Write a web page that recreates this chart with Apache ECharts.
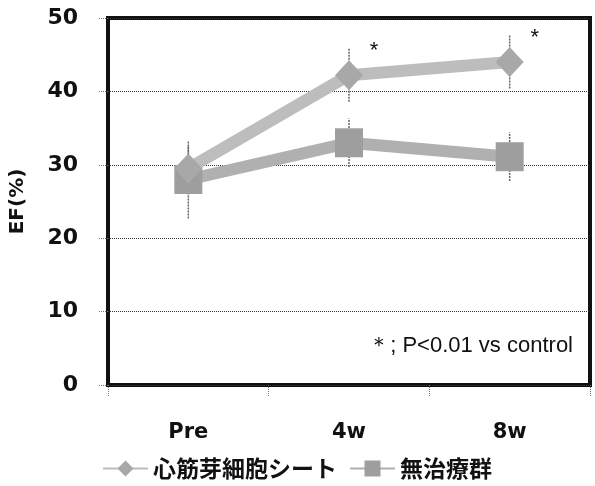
<!DOCTYPE html>
<html><head><meta charset="utf-8">
<script src="https://cdn.jsdelivr.net/npm/echarts@6/dist/echarts.min.js"></script>
<style>html,body{margin:0;padding:0;background:#fff}#c{width:595px;height:486px}</style>
</head><body><div id="c"></div>
<script>
var categories = ['Pre', '4w', '8w'];
var sheetName = '心筋芽細胞シート';
var controlName = '無治療群';
var sheetEF = [29.5, 42.2, 44.0];
var sheetErr = [3.0, 3.6, 3.6];
var sheetSig = ['', '*', '*'];
var controlEF = [28.0, 33.0, 31.1];
var controlErr = [5.3, 3.3, 3.3];
var yTicks = [0, 10, 20, 30, 40, 50];
var footnote = '＊; P<0.01 vs control';

var chart = echarts.init(document.getElementById('c'));

function errData(vals, errs) {
  return vals.map(function (v, i) { return [i, v, errs[i]]; });
}
function errRender(params, api) {
  var i = api.value(0), v = api.value(1), e = api.value(2);
  var a = api.coord([i, v - e]);
  var b = api.coord([i, v + e]);
  return {
    type: 'line',
    shape: { x1: a[0], y1: a[1], x2: b[0], y2: b[1] },
    style: { stroke: '#666', lineWidth: 1.5, lineDash: [2, 1] }
  };
}

chart.setOption({
  animation: false,
  grid: { left: 108, right: 5, top: 18, bottom: 101, show: true, borderColor: '#111', borderWidth: 4, backgroundColor: '#fff' },
  xAxis: {
    type: 'category',
    data: categories,
    boundaryGap: true,
    axisLine: { show: false },
    axisTick: { show: true, inside: false, length: 12, lineStyle: { color: '#777', type: 'dotted', width: 1 } },
    axisLabel: { margin: 37, fontSize: 21, fontWeight: 'bold', color: '#111', fontFamily: 'DejaVu Sans' }
  },
  yAxis: {
    type: 'value',
    min: yTicks[0], max: yTicks[yTicks.length - 1], interval: 10,
    name: 'EF(%)',
    nameLocation: 'middle',
    nameGap: 80,
    nameTextStyle: { fontSize: 20, fontWeight: 'bold', color: '#111', fontFamily: 'DejaVu Sans' },
    axisLine: { show: false },
    axisTick: { show: true, length: 10, lineStyle: { color: '#777', type: 'dotted' } },
    axisLabel: { margin: 30, fontSize: 22, fontWeight: 'bold', color: '#111', fontFamily: 'DejaVu Sans' },
    splitLine: { show: true, lineStyle: { color: '#333', type: 'dotted', width: 1 } }
  },
  legend: {
    bottom: 1, left: 97,
    itemWidth: 45, itemHeight: 20, itemGap: 12,
    textStyle: { fontSize: 23, fontWeight: 'bold', color: '#111', fontFamily: 'Noto Sans CJK JP' },
    data: [sheetName, controlName]
  },
  series: [
    { type: 'custom', renderItem: errRender, data: errData(sheetEF, sheetErr), z: 1, silent: true },
    { type: 'custom', renderItem: errRender, data: errData(controlEF, controlErr), z: 1, silent: true },
    {
      name: controlName, type: 'line', data: controlEF, z: 3,
      symbol: 'rect', symbolSize: [28, 29],
      lineStyle: { width: 12, color: '#b0b0b0' },
      itemStyle: { color: '#9e9e9e', opacity: 1 }
    },
    {
      name: sheetName, type: 'line', data: sheetEF, z: 4,
      symbol: 'diamond', symbolSize: [28, 30],
      lineStyle: { width: 12, color: '#bdbdbd' },
      itemStyle: { color: '#a8a8a8', opacity: 1 },
      label: {
        show: true, position: 'inside', offset: [25, -24],
        fontSize: 22, color: '#111', fontFamily: 'Liberation Sans',
        formatter: function (p) { return sheetSig[p.dataIndex]; }
      }
    }
  ],
  graphic: [{
    type: 'text', right: 22, top: 335, z: 10,
    style: { text: footnote, fontSize: 22, fill: '#111', fontFamily: 'Liberation Sans' }
  }]
});
</script></body></html>
